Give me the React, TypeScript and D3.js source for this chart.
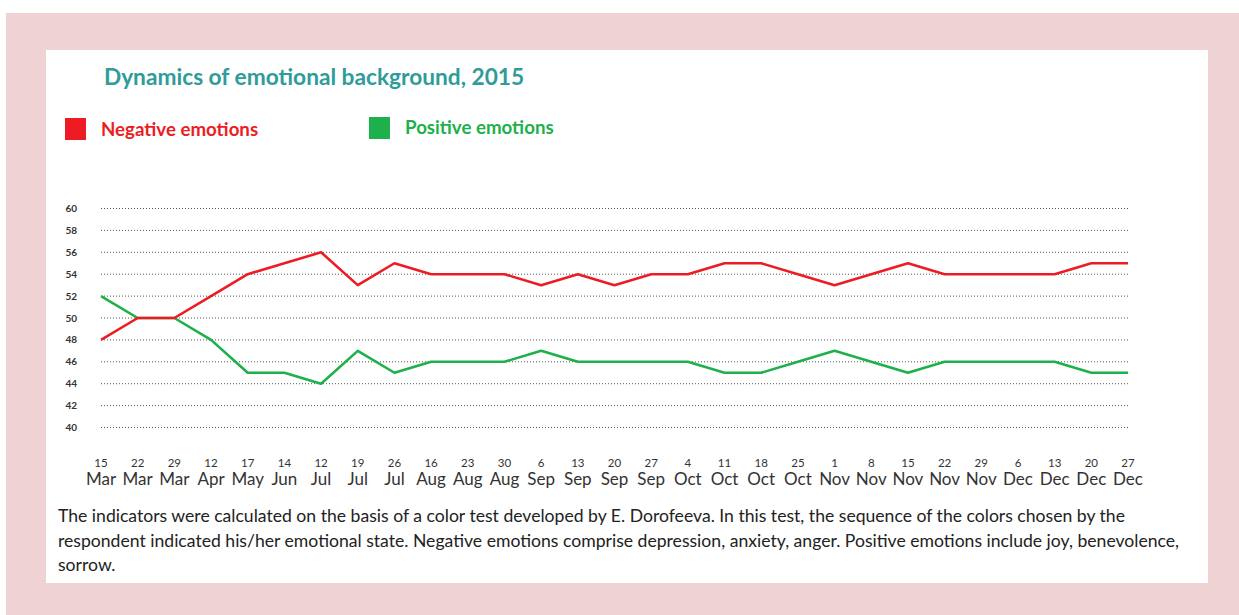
import React from 'react';
import * as d3 from 'd3';

const width = 1239;
const height = 615;
const red = '#ed1c24';
const green = '#1db04b';
const teal = '#2f9c9a';

// dates along the x axis
const days = ['15', '22', '29', '12', '17', '14', '12', '19', '26', '16', '23', '30', '6', '13', '20', '27',
  '4', '11', '18', '25', '1', '8', '15', '22', '29', '6', '13', '20', '27'];
const months = ['Mar', 'Mar', 'Mar', 'Apr', 'May', 'Jun', 'Jul', 'Jul', 'Jul', 'Aug', 'Aug', 'Aug', 'Sep', 'Sep', 'Sep', 'Sep',
  'Oct', 'Oct', 'Oct', 'Oct', 'Nov', 'Nov', 'Nov', 'Nov', 'Nov', 'Dec', 'Dec', 'Dec', 'Dec'];

const negative = [48, 50, 50, 52, 54, 55, 56, 53, 55, 54, 54, 54, 53, 54, 53, 54,
  54, 55, 55, 54, 53, 54, 55, 54, 54, 54, 54, 55, 55];
const positive = [52, 50, 50, 48, 45, 45, 44, 47, 45, 46, 46, 46, 47, 46, 46, 46,
  46, 45, 45, 46, 47, 46, 45, 46, 46, 46, 46, 45, 45];

const yTicks = [40, 42, 44, 46, 48, 50, 52, 54, 56, 58, 60];

const noteLines = [
  'The indicators were calculated on the basis of a color test developed by E. Dorofeeva. In this test, the sequence of the colors chosen by the',
  'respondent indicated his/her emotional state. Negative emotions comprise depression, anxiety, anger. Positive emotions include joy, benevolence,',
  'sorrow.',
];

const xScale = d3.scalePoint<number>()
  .domain(days.map((_, i) => i))
  .range([101, 1128]);
const yScale = d3.scaleLinear().domain([40, 60]).range([427.5, 208.5]);

const line = d3.line<number>()
  .x((_, i) => xScale(i) as number)
  .y(d => yScale(d));

const font = 'Lato, "Open Sans", sans-serif';

export default function App() {
  return (
    <svg width={width} height={height} style={{position: 'absolute', left: 0, top: 0}}>
      <rect x={0} y={0} width={width} height={height} fill='#fff' />
      <rect x={6} y={13} width={width - 6} height={height - 13} fill='#efd3d4' />
      <rect x={46} y={50} width={1162} height={533} fill='#fff' />

      <text x={104} y={85} fill={teal} fontFamily={font} fontWeight='bold' fontSize={22.7}>
        Dynamics of emotional background, 2015
      </text>

      {/* legend */}
      <rect x={65} y={118} width={21} height={22} fill={red} />
      <text x={101} y={136} fill={red} fontFamily={font} fontWeight='bold' fontSize={18.7}>Negative emotions</text>
      <rect x={369} y={117} width={21} height={22} fill={green} />
      <text x={405} y={134} fill={green} fontFamily={font} fontWeight='bold' fontSize={18.7}>Positive emotions</text>

      {/* grid + y labels */}
      <g>
        {yTicks.map(t => (
          <g key={t}>
            <line x1={101} x2={1128} y1={yScale(t)} y2={yScale(t)} stroke='#555' strokeWidth={1}
              strokeDasharray='1 2' />
            <text x={77} y={yScale(t) + 3.5} textAnchor='end' fill='#333' fontFamily={font}
              fontWeight='bold' fontSize={10}>{t}</text>
          </g>
        ))}
      </g>

      {/* x labels */}
      <g fill='#333' fontFamily={font} textAnchor='middle'>
        {days.map((d, i) => (
          <g key={i}>
            <text x={xScale(i)} y={467} fontSize={11.5}>{d}</text>
            <text x={xScale(i)} y={485} fontSize={17}>{months[i]}</text>
          </g>
        ))}
      </g>

      <path d={line(positive) || ''} fill='none' stroke={green} strokeWidth={2.6} strokeLinejoin='round' />
      <path d={line(negative) || ''} fill='none' stroke={red} strokeWidth={2.6} strokeLinejoin='round' />

      {/* footnote */}
      <g fill='#222' fontFamily={font} fontSize={17.6}>
        {noteLines.map((l, i) => (
          <text key={i} x={58} y={522 + i * 24.5}>{l}</text>
        ))}
      </g>
    </svg>
  );
}
